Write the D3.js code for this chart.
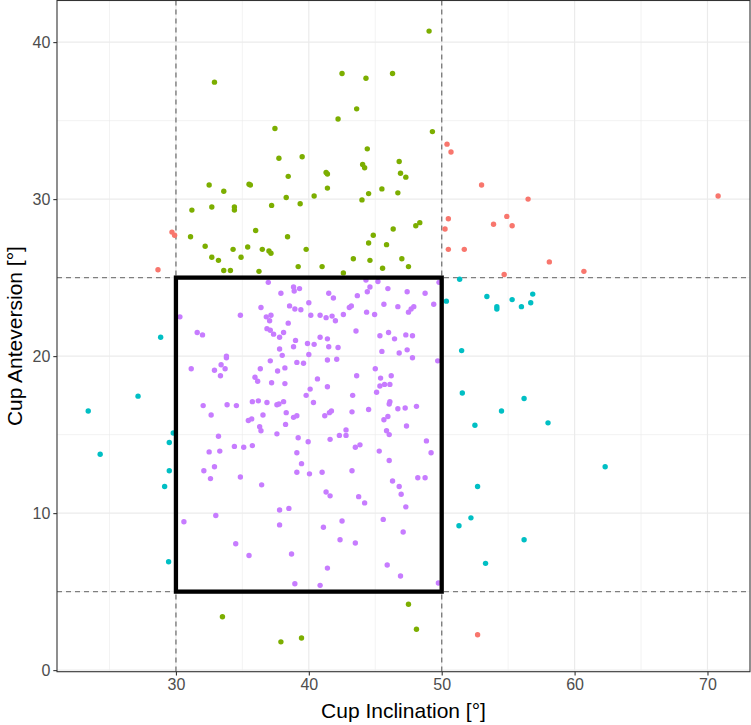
<!DOCTYPE html>
<html><head><meta charset="utf-8">
<script src="https://cdn.jsdelivr.net/npm/d3@7"></script>
<style>body{margin:0;background:#fff}svg{display:block}</style>
</head><body>
<svg id="chart" width="751" height="725"></svg>
<script>
const categories = ["both outside", "inclination inside", "anteversion inside", "safe zone"];
const colors = ["#F8766D", "#7CAE00", "#00BFC4", "#C77CFF"];
const xTicks = [30, 40, 50, 60, 70];
const yTicks = [0, 10, 20, 30, 40];
const safeInclination = [30, 50];
const safeAnteversion = [5, 25];

// [inclination, anteversion]
const bothOutside = [[29.7,27.9],[29.9,27.7],[28.65,25.5],[50.4,33.5],[50.7,33.0],[53.0,30.9],[56.5,30.0],[50.5,28.75],[54.9,28.9],[53.9,28.4],[55.3,28.3],[50.25,28.1],[70.8,30.2],[50.5,26.8],[51.7,26.8],[58.1,26.0],[54.7,25.2],[60.7,25.4],[52.7,2.25]];
const inclinationInside = [[32.9,37.45],[32.5,30.9],[33.6,30.5],[31.2,29.3],[32.7,29.5],[34.4,29.5],[34.4,29.3],[31.1,27.6],[42.5,38.0],[44.3,37.7],[46.3,38.0],[43.6,35.75],[42.2,35.1],[37.45,34.5],[44.4,33.2],[37.75,32.6],[39.5,32.7],[44.05,32.2],[44.2,32.0],[46.8,32.4],[46.9,31.65],[47.3,31.4],[41.3,31.7],[41.4,31.6],[38.45,31.45],[35.5,30.95],[35.6,30.9],[41.4,30.7],[40.4,30.2],[38.3,30.1],[45.5,30.65],[44.5,30.35],[46.7,30.4],[44.0,29.95],[37.2,29.6],[39.35,29.7],[36.0,28.0],[38.4,27.6],[44.85,27.7],[46.35,28.1],[49.05,40.7],[49.3,34.3],[48.05,28.3],[48.35,28.5],[32.2,27.0],[34.3,26.8],[32.7,26.3],[33.2,26.1],[33.6,25.45],[34.1,25.45],[44.5,27.2],[45.85,27.1],[35.4,26.95],[36.5,26.8],[37.0,26.7],[37.15,26.55],[34.9,26.3],[39.8,26.8],[43.35,26.2],[44.6,26.1],[47.0,26.2],[47.5,25.7],[36.25,25.4],[39.2,25.7],[41.0,25.7],[42.6,25.3],[45.55,25.6],[33.5,3.4],[37.9,1.8],[39.45,2.05],[47.5,4.2],[48.1,2.6]];
const anteversionInside = [[28.85,21.2],[27.15,17.45],[23.4,16.5],[29.8,15.1],[29.5,14.5],[24.3,13.75],[29.5,12.7],[29.15,11.7],[29.45,6.9],[51.35,24.9],[50.35,23.5],[53.4,23.8],[54.15,23.15],[54.15,23.0],[55.3,23.6],[56.0,23.15],[56.7,23.4],[56.85,23.95],[51.5,20.35],[51.55,17.65],[56.2,17.3],[54.5,16.5],[58.0,15.75],[52.5,15.6],[62.3,12.95],[52.7,11.7],[52.2,9.7],[51.3,9.2],[56.2,8.3],[53.3,6.8]];
const safeZone = [[30.3,22.5],[31.6,21.5],[32.0,21.35],[33.8,20.0],[33.8,19.9],[33.4,19.45],[33.7,19.2],[31.15,19.2],[32.9,19.1],[33.35,18.75],[32.05,16.85],[33.85,16.9],[32.65,16.25],[33.2,14.9],[34.4,14.25],[33.3,13.95],[32.5,13.9],[32.9,12.95],[32.1,12.7],
[32.6,12.2],[30.6,9.45],[33.0,9.85],[34.5,8.05],
[34.85,12.3],[36.45,11.8],[39.1,12.6],[40.05,12.5],[41.0,12.6],[43.25,12.7],[46.3,12.05],[46.8,11.7],[46.95,11.2],[47.3,10.4],[41.3,11.35],[41.6,11.1],[43.75,11.05],[44.2,10.65],[37.8,10.2],[38.5,10.3],[37.8,9.25],[41.1,9.1],[42.5,9.5],[45.6,9.6],[47.1,8.8],[42.35,8.3],[43.5,8.1],[35.5,7.3],[38.7,7.4],[41.4,6.5],[45.9,6.7],[46.9,6.0],[38.95,5.5],[40.85,5.4],
[48.2,12.25],[48.75,12.25],[49.75,5.55],
[49.8,24.7],[47.4,24.1],[48.75,24.0],[49.4,23.3],[47.9,23.15],[47.7,23.0],[47.5,22.8],[47.3,21.35],[47.8,21.3],[47.4,20.4],[47.8,19.9],[49.7,19.7],[47.25,16.7],[48.1,16.8],[47.35,15.55],[48.85,14.6],[49.2,13.85],
[36.95,24.7],[38.85,24.4],[39.3,24.3],[38.9,24.15],[37.9,24.0],[41.5,24.0],[41.85,23.7],[43.65,23.85],[44.4,24.1],[44.6,24.4],[45.2,24.75],[44.3,24.85],[45.95,24.3],[36.4,23.1],[38.55,23.2],[38.95,23.0],[39.4,22.95],[40.0,23.4],[43.05,23.1],[43.2,23.2],[45.65,23.3],[46.7,23.15],[34.85,22.6],[36.8,22.5],[37.15,22.6],[37.05,22.25],[40.15,22.6],[40.85,22.6],[41.3,22.45],[41.75,22.55],[42.0,22.25],[42.6,22.65],[44.35,22.8],[44.95,22.65],[38.45,22.1],[36.85,21.75],[37.1,21.65],[37.35,21.4],[38.1,21.5],[37.8,21.2],[43.55,21.6],[45.35,21.3],[46.0,21.5],[46.45,21.1],[40.85,21.2],[41.4,21.1],[39.0,21.0],[39.9,20.8],[40.4,20.75],[38.85,20.6],[41.5,20.6],[42.2,20.55],[37.8,20.45],[45.5,20.3],[46.8,20.2],[38.0,20.05],[40.0,20.1],[41.4,19.75],[42.1,19.8],[37.1,19.7],[39.1,19.6],[39.6,19.55],[36.35,19.2],[37.65,19.05],[38.2,19.25],[45.0,19.2],[43.6,18.75],[35.95,18.65],[36.15,18.4],[37.2,18.3],[38.2,18.25],[40.65,18.55],[45.4,18.6],[46.2,18.75],[45.35,18.1],[45.7,18.2],[46.1,18.2],[41.4,18.05],[40.1,17.9],[39.8,17.5],[43.3,17.5],[45.1,17.7],[40.35,17.05],[35.75,17.1],[36.2,17.15],[36.85,17.05],[37.6,16.9],[37.75,16.95],[38.1,17.1],[34.55,16.85],[46.1,17.1],[46.05,16.95],[46.7,16.65],[44.5,16.6],[38.3,16.4],[41.55,16.4],[41.7,16.5],[41.2,16.2],[43.25,16.45],[36.55,16.25],[38.85,16.1],[39.1,16.2],[35.45,15.9],[35.7,16.0],[45.65,15.95],[45.95,16.15],[38.25,15.65],[36.3,15.5],[36.4,15.25],[42.8,15.3],[42.3,14.95],[42.8,14.95],[45.85,15.25],[46.05,15.0],[37.6,15.05],[39.2,14.8],[39.95,14.55],[41.6,14.7],[35.1,14.2],[35.75,14.3],[43.85,14.35],[43.5,14.2],[45.3,13.95],[39.1,13.85],[46.05,13.35],[39.45,13.15]];

const groups = [bothOutside, inclinationInside, anteversionInside, safeZone];

const svg = d3.select("#chart");
const L = 57, R = 750, T = 0.5, B = 671.7;
const x = d3.scaleLinear().domain([21.05, 73.2]).range([L, R]);
const y = d3.scaleLinear().domain([-0.1, 42.65]).range([B, T]);
const font = "'Liberation Sans', Arial, Helvetica, sans-serif";

const g = svg.append("g");
// minor grid
const xMinor = d3.range(25, 75, 10), yMinor = d3.range(5, 45, 10);
g.selectAll(".xmin").data(xMinor).join("line").attr("x1", x).attr("x2", x).attr("y1", T).attr("y2", B).attr("stroke", "#EBEBEB").attr("stroke-width", 0.6);
g.selectAll(".ymin").data(yMinor).join("line").attr("y1", y).attr("y2", y).attr("x1", L).attr("x2", R).attr("stroke", "#EBEBEB").attr("stroke-width", 0.6);
g.selectAll(".xmaj").data(xTicks).join("line").attr("x1", x).attr("x2", x).attr("y1", T).attr("y2", B).attr("stroke", "#EBEBEB").attr("stroke-width", 1.2);
g.selectAll(".ymaj").data(yTicks).join("line").attr("y1", y).attr("y2", y).attr("x1", L).attr("x2", R).attr("stroke", "#EBEBEB").attr("stroke-width", 1.2);

// dashed reference lines
g.selectAll(".vref").data(safeInclination).join("line").attr("x1", x).attr("x2", x).attr("y1", T).attr("y2", B)
  .attr("stroke", "#7F7F7F").attr("stroke-width", 1.4).attr("stroke-dasharray", "5,4");
g.selectAll(".href").data(safeAnteversion).join("line").attr("y1", y).attr("y2", y).attr("x1", L).attr("x2", R)
  .attr("stroke", "#7F7F7F").attr("stroke-width", 1.4).attr("stroke-dasharray", "5,4");

// points
groups.forEach((pts, i) => {
  g.append("g").selectAll("circle").data(pts).join("circle")
    .attr("cx", d => x(d[0])).attr("cy", d => y(d[1])).attr("r", 2.7)
    .attr("fill", colors[i]).attr("data-category", categories[i]);
});

// safe zone rectangle
g.append("rect").attr("x", x(safeInclination[0])).attr("y", y(safeAnteversion[1]))
  .attr("width", x(safeInclination[1]) - x(safeInclination[0]))
  .attr("height", y(safeAnteversion[0]) - y(safeAnteversion[1]))
  .attr("fill", "none").attr("stroke", "#000").attr("stroke-width", 4.3);

// panel border
g.append("rect").attr("x", L).attr("y", T).attr("width", R - L).attr("height", B - T)
  .attr("fill", "none").attr("stroke", "#333333").attr("stroke-width", 1.1);

// axes
const xAxis = svg.append("g").attr("transform", `translate(0,${B})`)
  .call(d3.axisBottom(x).tickValues(xTicks).tickSize(3.7).tickPadding(3));
const yAxis = svg.append("g").attr("transform", `translate(${L},0)`)
  .call(d3.axisLeft(y).tickValues(yTicks).tickSize(3.7).tickPadding(3));
[xAxis, yAxis].forEach(a => {
  a.select(".domain").remove();
  a.selectAll(".tick line").attr("stroke", "#333333").attr("stroke-width", 1.1);
  a.selectAll(".tick text").attr("fill", "#4D4D4D").style("font-family", font).style("font-size", "16px");
});

svg.append("text").attr("x", (L + R) / 2).attr("y", 718).attr("text-anchor", "middle")
  .style("font-family", font).style("font-size", "21px").attr("fill", "#000").text("Cup Inclination [°]");
svg.append("text").attr("transform", `translate(22,${(T + B) / 2}) rotate(-90)`).attr("text-anchor", "middle")
  .style("font-family", font).style("font-size", "21px").attr("fill", "#000").text("Cup Anteversion [°]");
</script>
</body></html>
